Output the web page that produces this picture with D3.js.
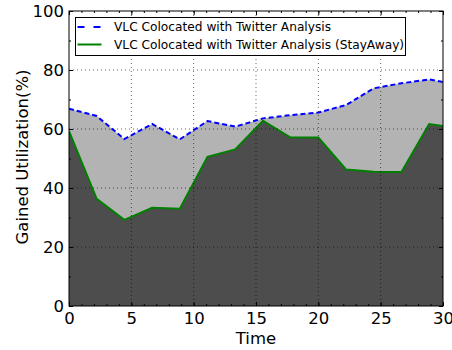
<!DOCTYPE html>
<html>
<head>
<meta charset="utf-8">
<script src="https://cdn.jsdelivr.net/npm/d3@7"></script>
<style>
  body { margin: 0; background: #fff; }
  text { font-family: "DejaVu Sans", sans-serif; fill: #000; }
  .axis path { display: none; }
  .axis line { stroke: #000; stroke-width: 1; }
  .grid line { stroke: #000; stroke-width: 0.6; stroke-dasharray: 1,3; }
</style>
</head>
<body>
<svg width="452" height="350"></svg>
<script>
// time samples (last one runs past the axis and is clipped)
const times = [0, 2.22, 4.44, 6.67, 8.89, 11.11, 13.33, 15.56, 17.78, 20, 22.22, 24.44, 26.67, 28.89, 31.11];
const colocated = [66.9, 64.4, 56.6, 61.7, 56.5, 62.7, 60.8, 63.6, 64.7, 65.6, 68.1, 73.8, 75.5, 76.8, 75.0];
const stayAway = [59.3, 36.3, 29.2, 33.3, 33.0, 50.6, 53.1, 62.8, 57.1, 57.1, 46.3, 45.5, 45.4, 61.7, 60.3];
const xTicks = [0, 5, 10, 15, 20, 25, 30];
const yTicks = [0, 20, 40, 60, 80, 100];
const seriesNames = ["VLC Colocated with Twitter Analysis", "VLC Colocated with Twitter Analysis (StayAway)"];

const mLeft = 69, mRight = 443, mTop = 11, mBottom = 306;
const w = mRight - mLeft, h = mBottom - mTop;

var svg = d3.select("svg");
var g = svg.append("g").attr("transform", `translate(${mLeft},${mTop})`);

var x = d3.scaleLinear().domain([0, 30]).range([0, w]);
var y = d3.scaleLinear().domain([0, 100]).range([h, 0]);

g.append("clipPath").attr("id", "clip")
  .append("rect").attr("width", w).attr("height", h);

var data = times.map((t, i) => ({t: t, a: colocated[i], b: stayAway[i]}));

var plot = g.append("g").attr("clip-path", "url(#clip)");

// area under StayAway
plot.append("path")
  .attr("d", d3.area().x(d => x(d.t)).y0(y(0)).y1(d => y(d.b))(data))
  .attr("fill", "#4d4d4d");
// area between the two lines
plot.append("path")
  .attr("d", d3.area().x(d => x(d.t)).y0(d => y(d.b)).y1(d => y(d.a))(data))
  .attr("fill", "#b3b3b3");

// grid
g.append("g").attr("class", "grid")
  .selectAll("line").data(xTicks.slice(1, -1)).enter().append("line")
  .attr("x1", d => x(d)).attr("x2", d => x(d)).attr("y1", 0).attr("y2", h);
g.append("g").attr("class", "grid")
  .selectAll("line").data(yTicks.slice(1, -1)).enter().append("line")
  .attr("y1", d => y(d)).attr("y2", d => y(d)).attr("x1", 0).attr("x2", w);

var line = (key) => d3.line().x(d => x(d.t)).y(d => y(d[key]));

plot.append("path")
  .attr("d", line("b")(data))
  .attr("fill", "none").attr("stroke", "#008000").attr("stroke-width", 2)
  .attr("stroke-linejoin", "miter");
plot.append("path")
  .attr("d", line("a")(data))
  .attr("fill", "none").attr("stroke", "#0000ff").attr("stroke-width", 2)
  .attr("stroke-dasharray", "5,3");

// axes with inward ticks on all four sides
var minorX = d3.range(0, 31, 1), minorY = d3.range(0, 101, 10);

g.append("g").attr("class", "axis").attr("transform", `translate(0,${h})`)
  .call(d3.axisBottom(x).tickValues(minorX).tickSize(-2).tickFormat(""));
g.append("g").attr("class", "axis").attr("transform", `translate(0,${h})`)
  .call(d3.axisBottom(x).tickValues(xTicks).tickSize(-4).tickPadding(6).tickFormat(d3.format("d")))
  .selectAll("text").style("font-size", "16.5px");
g.append("g").attr("class", "axis")
  .call(d3.axisTop(x).tickValues(minorX).tickSize(-2).tickFormat(""));
g.append("g").attr("class", "axis")
  .call(d3.axisTop(x).tickValues(xTicks).tickSize(-4).tickFormat(""));

g.append("g").attr("class", "axis")
  .call(d3.axisLeft(y).tickValues(minorY).tickSize(-2).tickFormat(""));
g.append("g").attr("class", "axis")
  .call(d3.axisLeft(y).tickValues(yTicks).tickSize(-4).tickPadding(5).tickFormat(d3.format("d")))
  .selectAll("text").style("font-size", "16.5px");
g.append("g").attr("class", "axis").attr("transform", `translate(${w},0)`)
  .call(d3.axisRight(y).tickValues(minorY).tickSize(-2).tickFormat(""));
g.append("g").attr("class", "axis").attr("transform", `translate(${w},0)`)
  .call(d3.axisRight(y).tickValues(yTicks).tickSize(-4).tickFormat(""));

g.selectAll(".axis text").attr("font-family", "DejaVu Sans");

// frame
g.append("rect").attr("width", w).attr("height", h)
  .attr("fill", "none").attr("stroke", "#000").attr("stroke-width", 1);

// axis labels
svg.append("text").attr("x", mLeft + w / 2).attr("y", 344)
  .attr("text-anchor", "middle").style("font-size", "16.5px").text("Time");
svg.append("text").attr("transform", "translate(28,157) rotate(-90)")
  .attr("text-anchor", "middle").style("font-size", "16.5px").text("Gained Utilization(%)");

// legend
var lg = svg.append("g").attr("transform", "translate(75.5,17.5)");
lg.append("rect").attr("width", 330).attr("height", 38)
  .attr("fill", "#fff").attr("stroke", "#000").attr("stroke-width", 1);
var styles = [
  {stroke: "#0000ff", dash: "7,9"},
  {stroke: "#008000", dash: null}
];
seriesNames.forEach((name, i) => {
  var cy = 9.5 + i * 17.5;
  lg.append("line").attr("x1", 2).attr("x2", 26).attr("y1", cy).attr("y2", cy)
    .attr("stroke", styles[i].stroke).attr("stroke-width", 2)
    .attr("stroke-dasharray", styles[i].dash);
  lg.append("text").attr("x", 38.5).attr("y", cy).attr("dy", "0.35em")
    .style("font-size", "12.2px").text(name);
});
</script>
</body>
</html>
